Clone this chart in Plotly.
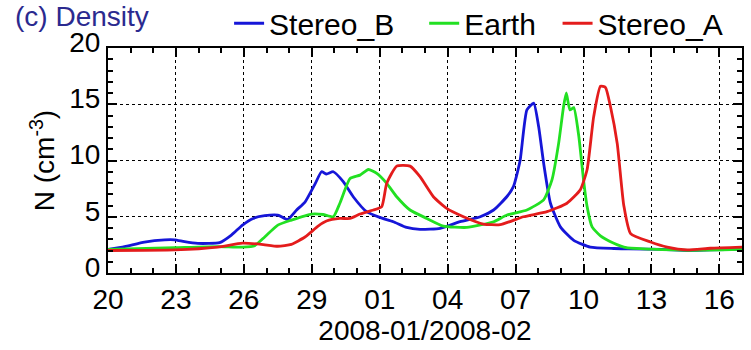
import pandas as pd
import plotly.graph_objects as go

BASE = pd.Timestamp("2008-01-20")

# day offsets from 2008-01-20 and densities (cm^-3)
stb_days = [0, 0.73, 1.61, 2.5, 2.95, 3.38, 3.97, 4.93, 5.45, 5.94, 6.41, 6.92, 7.5, 7.93, 8.33, 8.7, 9.14, 9.43, 9.65, 9.95,
            10.39, 10.83, 11.42, 12.0, 12.6, 13.19, 13.78, 14.67, 15.55, 16.44, 17.03, 17.62, 17.91, 18.2, 18.5, 18.8,
            19.02, 19.24, 19.54, 19.98, 20.57, 21.3, 22.34, 23.0, 24.5, 25.6, 26.6, 28.0]
stb_vals = [2.1, 2.35, 2.75, 2.95, 2.95, 2.78, 2.63, 2.7, 3.37, 4.26, 4.85, 5.1, 5.15, 4.76, 5.6, 6.3, 7.9, 9.0, 8.8, 9.0,
            8.12, 6.78, 5.45, 4.94, 4.56, 4.05, 3.88, 3.97, 4.56, 5.0, 5.6, 6.8, 7.7, 10.0, 14.5, 15.1,
            13.0, 9.75, 6.2, 4.1, 2.9, 2.3, 2.18, 2.15, 2.1, 2.0, 2.05, 2.1]

earth_days = [0, 2.95, 4.85, 5.94, 6.48, 6.92, 7.5, 8.1, 9.0, 9.5, 9.95, 10.24, 10.69, 11.13, 11.5, 11.87, 12.31, 12.75,
              13.34, 14.08, 14.81, 15.85, 17.03, 17.62, 18.5, 19.24, 19.61, 19.9, 20.12, 20.24, 20.4, 20.57, 20.79,
              21.0, 21.16, 21.38, 21.75, 22.34, 22.9, 24.0, 25.6, 28.0]
earth_vals = [2.1, 2.25, 2.35, 2.3, 2.43, 3.2, 4.26, 4.7, 5.24, 5.2, 5.0, 6.2, 8.4, 8.7, 9.2, 8.85, 7.97, 6.78,
              5.6, 4.85, 4.17, 4.05, 4.56, 5.15, 5.6, 6.5, 8.3, 11.5, 14.8, 16.0, 14.5, 14.7, 12.2,
              8.3, 5.9, 4.1, 3.3, 2.65, 2.25, 2.12, 2.02, 2.1]

sta_days = [0, 2.95, 4.85, 5.94, 6.77, 7.5, 8.1, 8.7, 9.28, 9.65, 10.24, 10.69, 11.13, 11.72, 12.09, 12.31, 12.75, 13.34,
            13.78, 14.37, 14.96, 15.7, 16.58, 17.32, 18.35, 19.39, 20.27, 20.86, 21.16, 21.45, 21.75, 21.97, 22.19,
            22.49, 22.78, 23.08, 23.96, 24.7, 25.58, 26.6, 28.0]
sta_vals = [2.0, 2.05, 2.3, 2.65, 2.55, 2.38, 2.55, 3.2, 4.17, 4.62, 4.85, 4.85, 5.24, 5.6, 5.9, 7.97, 9.5, 9.5,
            8.56, 6.78, 5.74, 5.0, 4.35, 4.3, 5.0, 5.45, 6.2, 7.4, 9.2, 13.9, 16.6, 16.5, 14.8,
            11.5, 6.0, 3.5, 2.76, 2.3, 2.05, 2.2, 2.3]

series_names = ["Stereo_B", "Earth", "Stereo_A"]
tick_days = [0, 3, 6, 9, 12, 15, 18, 21, 24, 27]
tick_labels = ["20", "23", "26", "29", "01", "04", "07", "10", "13", "16"]

def to_dates(days):
    return [BASE + pd.Timedelta(days=d) for d in days]

FONT = "Liberation Sans, Arial, Helvetica, sans-serif"
FS = 28
NB = "\u00a0"

fig = go.Figure()
series = [(series_names[0] + NB * 3, stb_days, stb_vals, "#1616d8"),
          (series_names[1] + NB * 2, earth_days, earth_vals, "#22e022"),
          (series_names[2], sta_days, sta_vals, "#e41c1c")]
for name, d, v, c in series:
    fig.add_trace(go.Scatter(x=to_dates(d), y=v, mode="lines", name=name,
                             line=dict(color=c, width=2.8, shape="spline", smoothing=0.5)))

axis_common = dict(showline=True, linecolor="black", linewidth=2, mirror="allticks",
                   ticks="inside", tickcolor="black", tickwidth=2, ticklen=9,
                   showgrid=True, gridcolor="black", griddash="dot", gridwidth=1,
                   zeroline=False, tickfont=dict(family=FONT, size=FS, color="black"))

fig.update_xaxes(**axis_common,
                 range=[BASE, BASE + pd.Timedelta(days=28)],
                 tickmode="array", tickvals=to_dates(tick_days), ticktext=tick_labels,
                 minor=dict(ticks="inside", ticklen=5, tickcolor="black", tickwidth=2,
                            dtick=86400000, tick0=BASE, showgrid=False),
                 title=dict(text="2008-01/2008-02", font=dict(family=FONT, size=FS, color="black"), standoff=2))
fig.update_yaxes(**axis_common, range=[0, 20], dtick=5, tick0=0, ticklabelshift=-6,
                 minor=dict(ticks="inside", ticklen=5, tickcolor="black", tickwidth=2, dtick=1, showgrid=False),
                 title=dict(text="N (cm<sup>-3</sup>)", font=dict(family=FONT, size=FS, color="black"), standoff=6))

fig.add_annotation(text="(c) Density", xref="paper", yref="paper", x=-0.148, y=1.138,
                   xanchor="left", yanchor="middle", showarrow=False, borderpad=0,
                   font=dict(family=FONT, size=28, color="#2b2a8f"))

fig.update_layout(width=751, height=350, margin=dict(l=108, r=9, t=48, b=77, autoexpand=False),
                  plot_bgcolor="white", paper_bgcolor="white",
                  showlegend=True,
                  legend=dict(orientation="h", x=0.191, y=1.11, xanchor="left", yanchor="middle",
                              font=dict(family=FONT, size=30, color="black"),
                              bgcolor="rgba(0,0,0,0)", itemwidth=30, tracegroupgap=0))

fig.write_html("out.html")
